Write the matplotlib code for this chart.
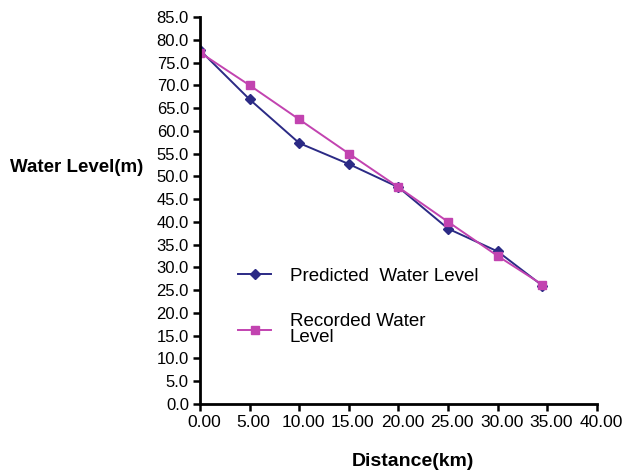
import numpy as np
import matplotlib.pyplot as plt
import matplotlib.transforms as mtransforms
from matplotlib.ticker import FormatStrFormatter

plt.rcParams['font.family'] = ['Liberation Sans', 'DejaVu Sans']

distance = [0, 5, 10, 15, 20, 25, 30, 34.5]
predicted = [77.7, 66.9, 57.3, 52.7, 47.6, 38.5, 33.5, 26.0]
recorded = [77.2, 70.0, 62.5, 55.0, 47.6, 40.0, 32.5, 26.2]

pred_color = "#2b2a85"
rec_color = "#c243b0"

fig = plt.figure(figsize=(6.26, 4.75), dpi=100)
ax = fig.add_axes([200/626, 1 - 404/475, 397/626, 387/475])

ax.plot(distance, predicted, color=pred_color, marker="D", markersize=5.5, lw=1.4,
        label="Predicted  Water Level")
ax.plot(distance, recorded, color=rec_color, marker="s", markersize=6, lw=1.4,
        label="Recorded Water\nLevel")

ax.set_xlim(0, 40)
ax.set_ylim(0, 85)
ax.set_xticks(np.arange(0, 41, 5))
ax.set_yticks(np.arange(0, 86, 5))
ax.xaxis.set_major_formatter(FormatStrFormatter("%.2f"))
ax.yaxis.set_major_formatter(FormatStrFormatter("%.1f"))
ax.tick_params(labelsize=12, width=1.8, length=5, pad=3, colors="black")
ax.tick_params(axis="x", labelsize=12.5)

# x tick labels sit a little right of their ticks in the original
shift = mtransforms.ScaledTranslation(4/100, 0, fig.dpi_scale_trans)
for lbl in ax.get_xticklabels():
    lbl.set_transform(lbl.get_transform() + shift)

for s in ["top", "right"]:
    ax.spines[s].set_visible(False)
for s in ["left", "bottom"]:
    ax.spines[s].set_linewidth(2)

fig.text(413/626, 1 - 461/475, "Distance(km)", fontsize=14, fontweight="bold",
         ha="center", va="center")
fig.text(10/626, 1 - 168/475, "Water Level(m)", fontsize=13.5, fontweight="bold",
         ha="left", va="center")

leg = ax.legend(loc="upper left", bbox_to_anchor=(0.096, 0.352), frameon=False,
                fontsize=13.5, handlelength=1.75, labelspacing=1.5, handletextpad=1.0,
                borderpad=0, borderaxespad=0)
for t in leg.get_texts():
    t.set_linespacing(0.95)

fig.savefig("out.png", dpi=100)
